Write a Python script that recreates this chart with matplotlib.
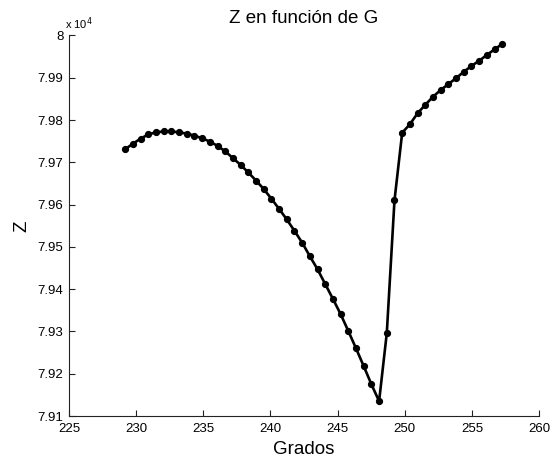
import matplotlib
matplotlib.use("Agg")
import matplotlib.pyplot as plt
from matplotlib.ticker import FuncFormatter

plt.rcParams['font.family'] = ['Liberation Sans', 'DejaVu Sans']

# Angle in degrees
G = [229.183, 229.756, 230.329, 230.902, 231.475, 232.048, 232.621, 233.194,
     233.767, 234.340, 234.913, 235.486, 236.059, 236.632, 237.205, 237.777,
     238.350, 238.923, 239.496, 240.069, 240.642, 241.215, 241.788, 242.361,
     242.934, 243.507, 244.080, 244.653, 245.226, 245.799, 246.372, 246.945,
     247.518, 248.091, 248.664, 249.237, 249.810, 250.383, 250.956, 251.529,
     252.101, 252.674, 253.247, 253.820, 254.393, 254.966, 255.539, 256.112,
     256.685, 257.258]

# Z values
Z = [79731, 79744, 79756, 79766, 79771, 79773, 79773, 79771,
     79768, 79763, 79757, 79749, 79739, 79726, 79710, 79694,
     79676, 79657, 79637, 79614, 79590, 79565, 79538, 79510,
     79478, 79447, 79412, 79377, 79341, 79301, 79260, 79218,
     79175, 79135, 79296, 79610, 79770, 79790, 79816, 79836,
     79855, 79871, 79885, 79899, 79914, 79928, 79940, 79954,
     79967, 79980]

x_ticks = [225, 230, 235, 240, 245, 250, 255, 260]
y_ticks = [79100, 79200, 79300, 79400, 79500, 79600, 79700, 79800, 79900, 80000]

fig = plt.figure(figsize=(5.52, 4.61), dpi=100)
ax = fig.add_axes([0.125, 0.0976, 0.8515, 0.8254])

ax.plot(G, Z, color='black', linewidth=1.9, marker='o', markersize=4.2,
        markerfacecolor='black', markeredgecolor='black')

ax.set_xlim(225, 260)
ax.set_ylim(79100, 80000)
ax.set_xticks(x_ticks)
ax.set_yticks(y_ticks)
ax.yaxis.set_major_formatter(FuncFormatter(lambda v, p: f"{round(v / 1e4, 4):g}"))

for side in ('top', 'right'):
    ax.spines[side].set_visible(False)
for side in ('left', 'bottom'):
    ax.spines[side].set_linewidth(0.8)
    ax.spines[side].set_color('#222222')

ax.tick_params(direction='in', length=4, width=0.8, labelsize=9.5, colors='#222222',
               labelcolor='black')
ax.tick_params(axis='x', pad=5)
ax.tick_params(axis='y', pad=4)

ax.set_title('Z en función de G', fontsize=13.5, pad=9)
ax.set_xlabel('Grados', fontsize=13.5, labelpad=4)
ax.set_ylabel('Z', fontsize=13.5, labelpad=5)

# Exponent label above the y axis
ax.text(-0.008, 1.008, r'x 10$^{4}$', transform=ax.transAxes, fontsize=8,
        ha='left', va='bottom')

fig.savefig('out.png', dpi=100)
